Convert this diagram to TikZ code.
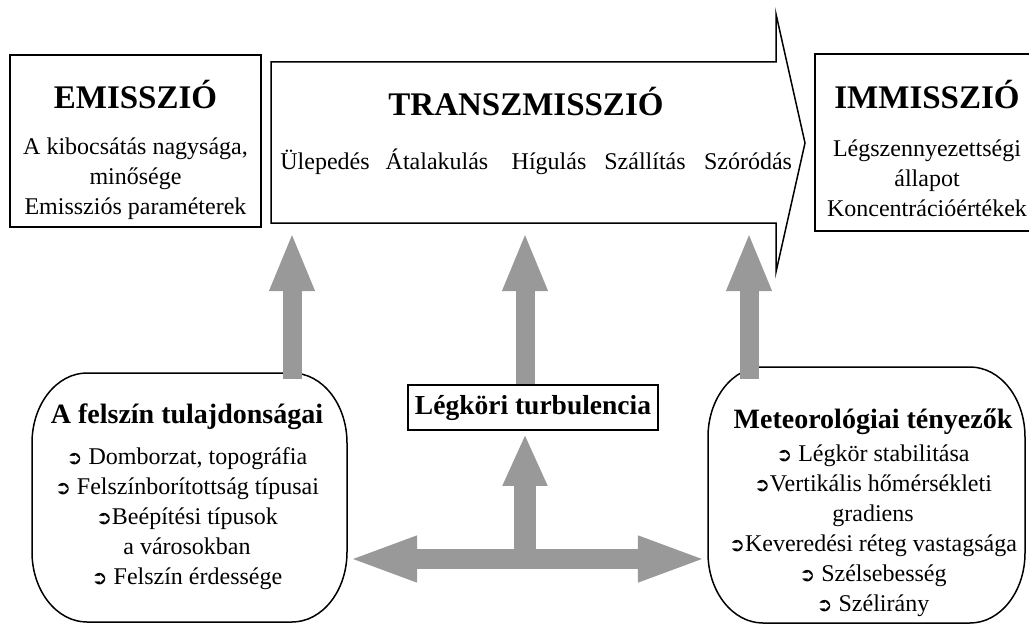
\documentclass[tikz,border=0pt]{standalone}
\usepackage{fontspec}
\setmainfont{Liberation Serif}
\newfontfamily\symfont{DejaVu Sans}
\usetikzlibrary{arrows.meta}
\definecolor{arrowgray}{RGB}{153,153,153}
\newcommand{\pointer}{{\symfont\fontsize{19}{19}\selectfont\raisebox{0.5pt}{➲}}}

\begin{document}
\begin{tikzpicture}[x=1pt,y=-1pt,
  plainbox/.style={draw, line width=1.5pt, inner sep=0pt},
  roundbox/.style={inner sep=0pt},
  bigtitle/.style={font=\fontsize{33}{36}\selectfont\bfseries, anchor=base, inner sep=0pt},
  subtitle/.style={font=\fontsize{28}{30}\selectfont\bfseries, anchor=base, inner sep=0pt},
  bodytext/.style={font=\fontsize{24}{30}\selectfont, align=center, inner sep=0pt},
  wordtext/.style={font=\fontsize{24}{30}\selectfont, anchor=base, inner sep=0pt},
  corner/.style={x radius=55, y radius=70},
  grayarrow/.style={draw=arrowgray, line width=19pt, -{Triangle[length=59pt,width=41pt]}}]

\useasboundingbox (0,0) rectangle (1029,626);

\node[plainbox, minimum width=251pt, minimum height=172pt] (emi) at (135.5,141) {};
\node[plainbox, minimum width=225pt, minimum height=177pt] (imm) at (927.5,142.5) {};
\draw[line width=1.5pt] (271,62) -- (776,62) -- (776,14) -- (805,143) -- (776,272) -- (776,223) -- (271,223) -- cycle;

\node[bigtitle] (emititle) at (135.5,108) {EMISSZIÓ};
\node[bodytext] (emibody) at (135.5,179) {A kibocsátás nagysága,\\ minősége\\ Emissziós paraméterek};
\node[bigtitle] (trtitle) at (526,115) {TRANSZMISSZIÓ};
\node[wordtext] (w1) at (325,169) {Ülepedés};
\node[wordtext] (w2) at (437,169) {Átalakulás};
\node[wordtext] (w3) at (549,169) {Hígulás};
\node[wordtext] (w4) at (645,169) {Szállítás};
\node[wordtext] (w5) at (748,169) {Szóródás};
\node[bigtitle] (immtitle) at (927,108) {IMMISSZIÓ};
\node[bodytext] (immbody) at (927,178) {Légszennyezettségi\\ állapot\\ Koncentrációértékek};

\node[plainbox, minimum width=250pt, minimum height=45pt, font=\fontsize{27.5}{30}\selectfont\bfseries] (turb) at (533,407.5) {Légköri turbulencia};
\node[roundbox, minimum width=315pt, minimum height=249pt] (felszin) at (189.5,497.5) {};
\node[roundbox, minimum width=317pt, minimum height=256pt] (meteo) at (866.5,495) {};
\draw[line width=1.5pt] (87,373) -- (292,373) arc[start angle=270, end angle=360, corner] -- (347,552)
  arc[start angle=0, end angle=90, corner] -- (87,622) arc[start angle=90, end angle=180, corner]
  -- (32,443) arc[start angle=180, end angle=270, corner] -- cycle;
\draw[line width=1.5pt] (763,367) -- (970,367) arc[start angle=270, end angle=360, corner] -- (1025,553)
  arc[start angle=0, end angle=90, corner] -- (763,623) arc[start angle=90, end angle=180, corner]
  -- (708,437) arc[start angle=180, end angle=270, corner] -- cycle;

\node[subtitle] (fetitle) at (187,423) {A felszín tulajdonságai};
\node[bodytext] (febody) at (187,519) {\pointer{} Domborzat, topográfia\\ \pointer{} Felszínborítottság típusai\\ \pointer{}Beépítési típusok\\ a városokban\\ \pointer{} Felszín érdessége};
\node[subtitle] (metitle) at (873,428) {Meteorológiai tényezők};
\node[bodytext] (mebody) at (873,531) {\pointer{} Légkör stabilitása\\ \pointer{}Vertikális hőmérsékleti\\ gradiens\\ \pointer{}Keveredési réteg vastagsága\\ \pointer{} Szélsebesség\\ \pointer{} Szélirány};

\coordinate (tip1) at (292,232);
\coordinate (tip2) at (525,232);
\coordinate (tip3) at (749,232);
\coordinate (hub) at (525,559);

\draw[grayarrow] ([yshift=-6pt]felszin.north -| tip1) -- (tip1);
\draw[grayarrow] (turb.north -| tip2) -- (tip2);
\draw[grayarrow] ([yshift=-12pt]meteo.north -| tip3) -- (tip3);
\draw[grayarrow, line width=22pt, -{Triangle[length=52pt,width=41pt]}] (hub) -- ([yshift=-3pt]turb.south -| hub);
\draw[grayarrow, line width=20pt, -{Triangle[length=70pt,width=41pt]}] (hub) -- (felszin.east |- hub);
\draw[grayarrow, line width=20pt, -{Triangle[length=70pt,width=41pt]}] (hub) -- (meteo.west |- hub);
\end{tikzpicture}
\end{document}
